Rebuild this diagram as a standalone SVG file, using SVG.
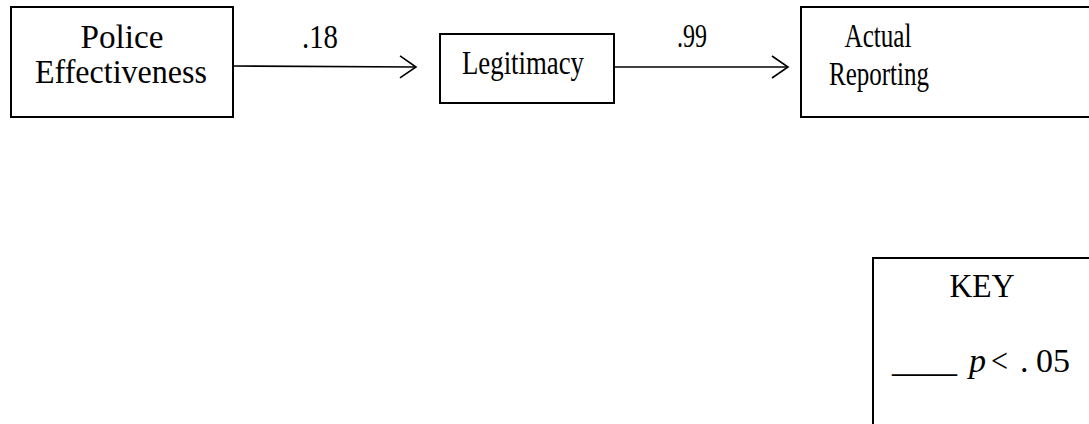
<svg xmlns="http://www.w3.org/2000/svg" width="1089" height="424" viewBox="0 0 1089 424">
<style>
.box{fill:#fff;stroke:#000;stroke-width:2}
.t{font-family:"Liberation Serif","Times New Roman",serif;font-size:34px;fill:#000}
.c{text-anchor:middle}
.edge{stroke:#000;stroke-width:1.6;fill:none}
</style>
<defs>
<marker id="arr" markerWidth="20" markerHeight="24" refX="18" refY="12" orient="auto" markerUnits="userSpaceOnUse">
<path d="M2,1 L18,12 L2,23" fill="none" stroke="#000" stroke-width="1.6"/>
</marker>
</defs>
<rect width="1089" height="424" fill="#fff"/>
<g id="connectors">
<line class="edge" x1="233" y1="66" x2="416" y2="67" marker-end="url(#arr)"/>
<text class="t c" x="320" y="48" textLength="36" lengthAdjust="spacingAndGlyphs">.18</text>
<line class="edge" x1="614" y1="67" x2="788" y2="67" marker-end="url(#arr)"/>
<text class="t c" x="692" y="47" textLength="30" lengthAdjust="spacingAndGlyphs">.99</text>
</g>
<g id="police-effectiveness">
<rect class="box" x="11" y="7" width="222" height="110"/>
<text class="t c" x="122" y="48" textLength="83" lengthAdjust="spacingAndGlyphs">Police</text>
<text class="t c" x="121" y="83" textLength="172" lengthAdjust="spacingAndGlyphs">Effectiveness</text>
</g>
<g id="legitimacy">
<rect class="box" x="440" y="34" width="174" height="69"/>
<text class="t c" x="523" y="74" textLength="122" lengthAdjust="spacingAndGlyphs">Legitimacy</text>
</g>
<g id="actual-reporting">
<rect class="box" x="801" y="7" width="300" height="110"/>
<text class="t c" x="878" y="47" textLength="67" lengthAdjust="spacingAndGlyphs">Actual</text>
<text class="t c" x="879" y="85" textLength="100" lengthAdjust="spacingAndGlyphs">Reporting</text>
</g>
<g id="key">
<rect class="box" x="873" y="258" width="230" height="180"/>
<text class="t c" x="982" y="297" font-size="32" textLength="65" lengthAdjust="spacingAndGlyphs">KEY</text>
<text class="t" y="372" font-size="32"><tspan x="892" textLength="65" lengthAdjust="spacingAndGlyphs">____</tspan><tspan x="969" font-style="italic">p</tspan><tspan x="991" textLength="17" lengthAdjust="spacingAndGlyphs">&lt;</tspan><tspan x="1020">.</tspan><tspan x="1036">05</tspan></text>
</g>
</svg>
